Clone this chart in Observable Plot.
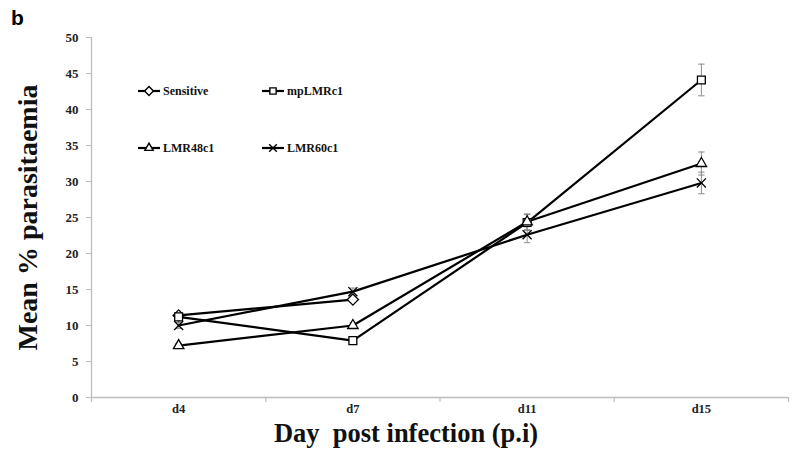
<!DOCTYPE html>
<html>
<head>
<meta charset="utf-8">
<script src="https://cdn.jsdelivr.net/npm/d3@7"></script>
<script src="https://cdn.jsdelivr.net/npm/@observablehq/plot@0.6"></script>
<style>
  html, body { margin: 0; padding: 0; background: #fff; }
  #wrap { position: relative; width: 800px; height: 459px; }
  #tag { position: absolute; left: 11px; top: 6px; font: bold 21px "Liberation Sans", Arial, sans-serif; color: #000; z-index: 2; }
  svg text { white-space: pre; }
</style>
</head>
<body>
<div id="wrap"><div id="tag">b</div></div>
<script>
// ---- data ----
const categories = ["d4", "d7", "d11", "d15"];
const seriesNames = ["Sensitive", "mpLMRc1", "LMR48c1", "LMR60c1"];
const sensitive = [11.4, 13.6, null, null];
const mpLMRc1 = [11.2, 7.9, 24.3, 44.1];
const LMR48c1 = [7.2, 10.0, 24.4, 32.5];
const LMR60c1 = [10.0, 14.7, 22.6, 29.8];
const sensitiveErr = [0.4, 0.4, null, null];
const mpLMRc1Err = [0.4, 0.4, 1.1, 2.2];
const LMR48c1Err = [0.3, 0.4, 1.1, 1.6];
const LMR60c1Err = [0.4, 0.5, 1.1, 1.5];
const yTicks = [0, 5, 10, 15, 20, 25, 30, 35, 40, 45, 50];
const symbols = ["diamond2", "square2", "triangle2", "times"];

const values = [sensitive, mpLMRc1, LMR48c1, LMR60c1];
const errs = [sensitiveErr, mpLMRc1Err, LMR48c1Err, LMR60c1Err];
const rows = [];
seriesNames.forEach((s, si) => {
  categories.forEach((c, ci) => {
    const v = values[si][ci];
    if (v == null) return;
    const e = errs[si][ci] || 0;
    rows.push({series: s, cat: c, xi: ci + 0.5, v, lo: v - e, hi: v + e, sym: symbols[si], r: symbols[si] === "times" ? 4.2 : 5});
  });
});

const serif = '"Liberation Serif", "Times New Roman", serif';
const capSymbol = {
  draw(ctx, size) { const r = Math.sqrt(size / Math.PI); ctx.moveTo(-r, 0); ctx.lineTo(r, 0); }
};
const axisGray = "#bdbdbd";

const chart = Plot.plot({
  width: 800,
  height: 459,
  marginLeft: 91,
  marginRight: 12,
  marginTop: 37,
  marginBottom: 62,
  style: {fontFamily: serif, background: "#fff"},
  x: {type: "linear", domain: [0, categories.length], axis: null},
  y: {domain: [0, 50], axis: null},
  r: {type: "identity"},
  symbol: {type: "identity"},
  marks: [
    // axes lines
    Plot.ruleX([0], {stroke: axisGray, strokeWidth: 1.3}),
    Plot.ruleY([0], {stroke: axisGray, strokeWidth: 1.3}),
    Plot.axisY(yTicks, {tickSize: 5, tickPadding: 8, stroke: axisGray, fontSize: 13, fontWeight: "bold", fill: "#222", label: null}),
    Plot.ruleX(d3.range(categories.length + 1), {y1: 0, y2: 0, insetBottom: -5, stroke: axisGray, strokeWidth: 1.2}),
    Plot.axisX(categories.map((c, i) => i + 0.5), {tickSize: 0, tickPadding: 7, tickFormat: (d) => categories[Math.floor(d)], fontSize: 12.5, fontWeight: "bold", fill: "#222", label: null}),
    // titles
    Plot.text(["Mean % parasitaemia"], {frameAnchor: "left", textAnchor: "middle", rotate: -90, dx: -63, fontSize: 28, fontWeight: "bold", fill: "#111"}),
    Plot.text(["Day  post infection (p.i)"], {frameAnchor: "bottom", dx: -34, dy: 44, fontSize: 26.5, fontWeight: "bold", fill: "#111"}),
    // data
    Plot.line(rows, {x: "xi", y: "v", z: "series", stroke: "#000", strokeWidth: 2.2}),
    Plot.ruleX(rows, {x: "xi", y1: "lo", y2: "hi", stroke: "#8a8a8a", strokeWidth: 1}),
    Plot.dot(rows, {x: "xi", y: "lo", symbol: capSymbol, r: 3.2, stroke: "#8a8a8a", strokeWidth: 1}),
    Plot.dot(rows, {x: "xi", y: "hi", symbol: capSymbol, r: 3.2, stroke: "#8a8a8a", strokeWidth: 1}),
    Plot.dot(rows, {x: "xi", y: "v", symbol: "sym", r: "r", fill: "#fff", stroke: "#000", strokeWidth: 1.3})
  ]
});

// legend (inside the plot area, top-left)
const svg = d3.select(chart);
const legendPos = [[138, 91], [262, 91], [138, 148], [262, 148]];
const d3sym = {diamond2: d3.symbolDiamond2, square2: d3.symbolSquare2, triangle2: d3.symbolTriangle2, times: d3.symbolTimes};
const lg = svg.append("g");
seriesNames.forEach((s, i) => {
  const [lx, ly] = legendPos[i];
  const g = lg.append("g").attr("transform", `translate(${lx},${ly})`);
  g.append("line").attr("x1", 0).attr("x2", 22).attr("y1", 0).attr("y2", 0).attr("stroke", "#000").attr("stroke-width", 2.2);
  g.append("path").attr("transform", "translate(11,0)").attr("d", d3.symbol(d3sym[symbols[i]], symbols[i] === "times" ? 40 : 50)())
    .attr("fill", "#fff").attr("stroke", "#000").attr("stroke-width", 1.4);
  g.append("text").attr("x", 25).attr("y", 0).attr("dy", "0.35em").attr("text-anchor", "start").text(s)
    .attr("font-family", serif).attr("font-weight", "bold").attr("font-size", 12).attr("fill", "#111");
});

document.getElementById("wrap").appendChild(chart);
</script>
</body>
</html>
